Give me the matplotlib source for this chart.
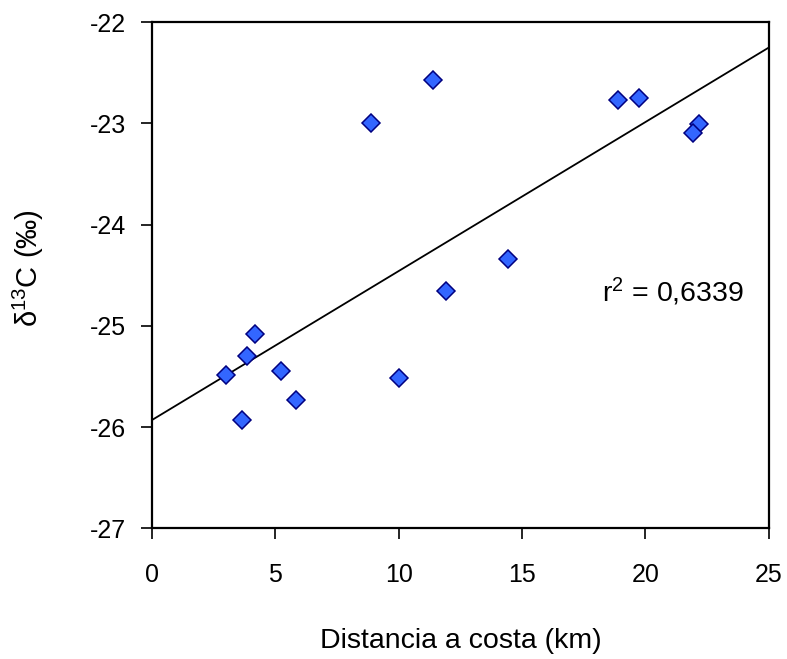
# delta 13C against distance to coast, with linear trend line
import numpy as np
import matplotlib
matplotlib.use('Agg')
import matplotlib.pyplot as plt

# fonts: arial-like, plain hyphen for negatives
plt.rcParams['font.family'] = 'Liberation Sans'
plt.rcParams['mathtext.fontset'] = 'custom'
plt.rcParams['mathtext.rm'] = 'Liberation Sans'
plt.rcParams['mathtext.it'] = 'Liberation Sans'
plt.rcParams['axes.unicode_minus'] = False

# data
distancia = [3.01, 3.87, 4.16, 3.65, 5.24, 5.85, 8.89, 11.39, 14.43,
             18.90, 19.73, 22.16, 21.92, 11.91, 10.01]
d13c = [-25.49, -25.30, -25.08, -25.93, -25.45, -25.73, -23.00, -22.57,
        -24.34, -22.77, -22.75, -23.01, -23.09, -24.66, -25.51]

# trend line as drawn (intercept at 0 and value at 25 km)
trend_x = [0, 25]
trend_y = [-25.93, -22.25]
r2_text = 'r$^2$ = 0,6339'

# figure
fig = plt.figure(figsize = (7.87, 6.59), dpi = 100)
ax = fig.add_axes([0.1931, 0.1983, 0.7837, 0.7679])

ax.plot(trend_x, trend_y, color = 'black', linewidth = 1.3, zorder = 2)
ax.plot(distancia, d13c, linestyle = 'none', marker = 'D', markersize = 9.5,
        markerfacecolor = '#3366ff', markeredgecolor = '#000080',
        markeredgewidth = 1.1, zorder = 3)

# axes limits and ticks
ax.set_xlim(0, 25)
ax.set_ylim(-27, -22)
ax.set_xticks([0, 5, 10, 15, 20, 25])
ax.set_yticks([-27, -26, -25, -24, -23, -22])
ax.tick_params(direction = 'out', length = 8, width = 1.2, labelsize = 18)
ax.tick_params(axis = 'x', pad = 17)
ax.tick_params(axis = 'y', pad = 10.5)
for s in ax.spines.values():
    s.set_linewidth(1.6)

# labels
ax.set_xlabel('Distancia a costa (km)', fontsize = 20.5)
ax.set_ylabel('δ$^{13}$C (‰)', fontsize = 21)
ax.xaxis.set_label_coords(0.5, -0.197)
ax.yaxis.set_label_coords(-0.172, 0.514)
ax.text(18.25, -24.764, r2_text, fontsize = 20.5, va = 'baseline')

fig.savefig('out.png', dpi = 100)
